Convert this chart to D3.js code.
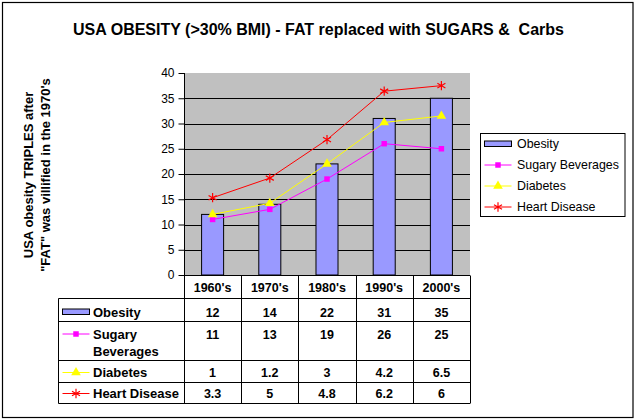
<!DOCTYPE html>
<html><head><meta charset="utf-8">
<script src="https://cdn.jsdelivr.net/npm/d3@7"></script>
<style>
html,body{margin:0;padding:0;background:#fff;}
text{font-family:Arial,"Liberation Sans",sans-serif;}
</style></head>
<body>
<svg id="chart" width="636" height="420"></svg>
<script>
// ---- data ----
const categories = ["1960's", "1970's", "1980's", "1990's", "2000's"];
const seriesNames = ["Obesity", "Sugary Beverages", "Diabetes", "Heart Disease"];
const obesity = [12, 14, 22, 31, 35];
const sugary = [11, 13, 19, 26, 25];
const diabetes = [1, 1.2, 3, 4.2, 6.5];
const heartDisease = [3.3, 5, 4.8, 6.2, 6];
const yTicks = [0, 5, 10, 15, 20, 25, 30, 35, 40];
const titleText = "USA OBESITY (>30% BMI) - FAT replaced with SUGARS &\u00a0\u00a0Carbs";
const yTitle1 = "USA obesity TRIPLES after";
const yTitle2 = "\"FAT\" was villified in the 1970's";

// ---- layout ----
const svg = d3.select("#chart");
const plot = {left: 184, right: 470, top: 73, bottom: 275};
const colors = {bar: "#9999FF", sugary: "#FF00FF", diabetes: "#FFFF00", heart: "#FF0000", plotBg: "#C0C0C0"};

// outer border
svg.append("rect").attr("x", 2.5).attr("y", 2.5).attr("width", 630.5).attr("height", 415)
  .attr("fill", "#fff").attr("stroke", "#000").attr("stroke-width", 1.2);

// title
svg.append("text").attr("x", 318.5).attr("y", 35).attr("text-anchor", "middle")
  .attr("font-size", "16px").attr("font-weight", "bold").text(titleText);

const x = d3.scaleBand().domain(categories).range([plot.left, plot.right]);
const y = d3.scaleLinear().domain([0, 40]).range([plot.bottom, plot.top]);

// plot background
svg.append("rect").attr("x", plot.left).attr("y", plot.top)
  .attr("width", plot.right - plot.left).attr("height", plot.bottom - plot.top)
  .attr("fill", colors.plotBg);

// gridlines
svg.append("g").selectAll("line").data(yTicks.filter(t => t > 0 && t < 40)).join("line")
  .attr("x1", plot.left).attr("x2", plot.right)
  .attr("y1", d => Math.round(y(d)) + 0.5).attr("y2", d => Math.round(y(d)) + 0.5)
  .attr("stroke", "#000").attr("stroke-width", 1);

// y axis
const yAxis = d3.axisLeft(y).tickValues(yTicks).tickSize(6).tickPadding(4).tickFormat(d3.format("d"));
const gy = svg.append("g").attr("transform", `translate(${plot.left + 0.5},0)`).call(yAxis);
gy.select(".domain").attr("d", `M0,${plot.top}V${plot.bottom}`).attr("stroke", "#000");
gy.selectAll(".tick line").attr("stroke", "#000");
gy.selectAll(".tick text").attr("font-size", "12px").attr("font-family", "Arial, 'Liberation Sans', sans-serif").attr("fill", "#000");

// bars
const barW = x.bandwidth() * 0.385;
svg.append("g").selectAll("rect").data(categories).join("rect")
  .attr("x", (d) => x(d) + (x.bandwidth() - barW) / 2)
  .attr("y", (d, i) => y(obesity[i]))
  .attr("width", barW)
  .attr("height", (d, i) => y(0) - y(obesity[i]))
  .attr("fill", colors.bar).attr("stroke", "#000").attr("stroke-width", 1);

// stacked lines
const rows = categories.map((c, i) => ({cat: c, sugary: sugary[i], diabetes: diabetes[i], heart: heartDisease[i]}));
const stack = d3.stack().keys(["sugary", "diabetes", "heart"]);
const stacked = stack(rows);
const cx = d => x(d.data.cat) + x.bandwidth() / 2;
const line = d3.line().x(cx).y(d => y(d[1]));
const lineColors = {sugary: colors.sugary, diabetes: colors.diabetes, heart: colors.heart};
const markerOf = {
  sugary: {type: d3.symbolSquare, size: 30, fill: true},
  diabetes: {type: d3.symbolTriangle, size: 40, fill: true},
  heart: {type: d3.symbolAsterisk, size: 60, fill: false}
};
stacked.forEach(s => {
  const col = lineColors[s.key];
  svg.append("path").datum(s).attr("d", line).attr("fill", "none").attr("stroke", col).attr("stroke-width", 1);
  const m = markerOf[s.key];
  svg.append("g").selectAll("path").data(s).join("path")
    .attr("transform", d => `translate(${cx(d)},${y(d[1])})`)
    .attr("d", d3.symbol().type(m.type).size(m.size))
    .attr("fill", m.fill ? col : "none")
    .attr("stroke", m.fill ? "none" : col).attr("stroke-width", 1.2);
});

// x axis line (top of table)
svg.append("line").attr("x1", plot.left).attr("x2", plot.right).attr("y1", plot.bottom + 0.5).attr("y2", plot.bottom + 0.5).attr("stroke", "#000");

// ---- data table ----
const tableLeft = 58.5;
const rowEdges = [275.5, 298.5, 321.5, 360.5, 382.5, 403.5];
const tg = svg.append("g");
// horizontal lines
rowEdges.forEach((ry, i) => {
  tg.append("line").attr("x1", i === 0 ? plot.left : tableLeft).attr("x2", plot.right)
    .attr("y1", ry).attr("y2", ry).attr("stroke", "#000");
});
// vertical lines
const colEdges = categories.map(c => x(c)).concat([plot.right]);
colEdges.forEach(cxv => {
  tg.append("line").attr("x1", Math.round(cxv) + 0.5).attr("x2", Math.round(cxv) + 0.5)
    .attr("y1", rowEdges[0]).attr("y2", rowEdges[5]).attr("stroke", "#000");
});
tg.append("line").attr("x1", tableLeft).attr("x2", tableLeft).attr("y1", rowEdges[1]).attr("y2", rowEdges[5]).attr("stroke", "#000");

// header
tg.selectAll("text.hdr").data(categories).join("text").attr("class", "hdr")
  .attr("x", d => x(d) + x.bandwidth() / 2).attr("y", 292)
  .attr("text-anchor", "middle").attr("font-size", "12.5px").attr("font-weight", "bold").text(d => d);

const tableSeries = [obesity, sugary, diabetes, heartDisease];
const rowBaselines = [316.5, 338.5, 377, 398];
tableSeries.forEach((vals, r) => {
  tg.append("g").selectAll("text").data(vals).join("text")
    .attr("x", (d, i) => x(categories[i]) + x.bandwidth() / 2).attr("y", rowBaselines[r])
    .attr("text-anchor", "middle").attr("font-size", "12.5px").attr("font-weight", "bold").text(d => d);
});

// key symbols drawing helper
function drawKey(g, key, kx, ky) {
  if (key === "bar") {
    g.append("rect").attr("x", kx).attr("y", ky - 3).attr("width", 27).attr("height", 5.5)
      .attr("fill", colors.bar).attr("stroke", "#000").attr("stroke-width", 1);
    return;
  }
  const col = lineColors[key];
  g.append("line").attr("x1", kx).attr("x2", kx + 27).attr("y1", ky).attr("y2", ky).attr("stroke", col);
  const m = markerOf[key];
  g.append("path").attr("transform", `translate(${kx + 13.5},${ky})`)
    .attr("d", d3.symbol().type(m.type).size(m.size))
    .attr("fill", m.fill ? col : "none").attr("stroke", m.fill ? "none" : col).attr("stroke-width", 1.2);
}
const keys = ["bar", "sugary", "diabetes", "heart"];

// row labels in table
const labelLines = [["Obesity"], ["Sugary", "Beverages"], ["Diabetes"], ["Heart Disease"]];
labelLines.forEach((ls, r) => {
  drawKey(tg, keys[r], 62.5, rowBaselines[r] - 4.5);
  ls.forEach((t, j) => {
    tg.append("text").attr("x", 93).attr("y", rowBaselines[r] + j * 17)
      .attr("font-size", "13px").attr("font-weight", "bold").text(t);
  });
});

// ---- legend ----
const lg = svg.append("g");
lg.append("rect").attr("x", 480.5).attr("y", 133.5).attr("width", 144.5).attr("height", 83)
  .attr("fill", "#fff").attr("stroke", "#000");
seriesNames.forEach((n, i) => {
  const by = 148 + i * 21;
  drawKey(lg, keys[i], 484.5, by - 4);
  lg.append("text").attr("x", 517).attr("y", by).attr("font-size", "12.4px").text(n);
});

// y axis title
const yt = svg.append("text").attr("transform", "translate(0,175) rotate(-90)")
  .attr("text-anchor", "middle").attr("font-size", "13px").attr("font-weight", "bold");
yt.append("tspan").attr("x", 0).attr("y", 33).text(yTitle1);
yt.append("tspan").attr("x", 0).attr("y", 50).text(yTitle2);
</script>
</body></html>
